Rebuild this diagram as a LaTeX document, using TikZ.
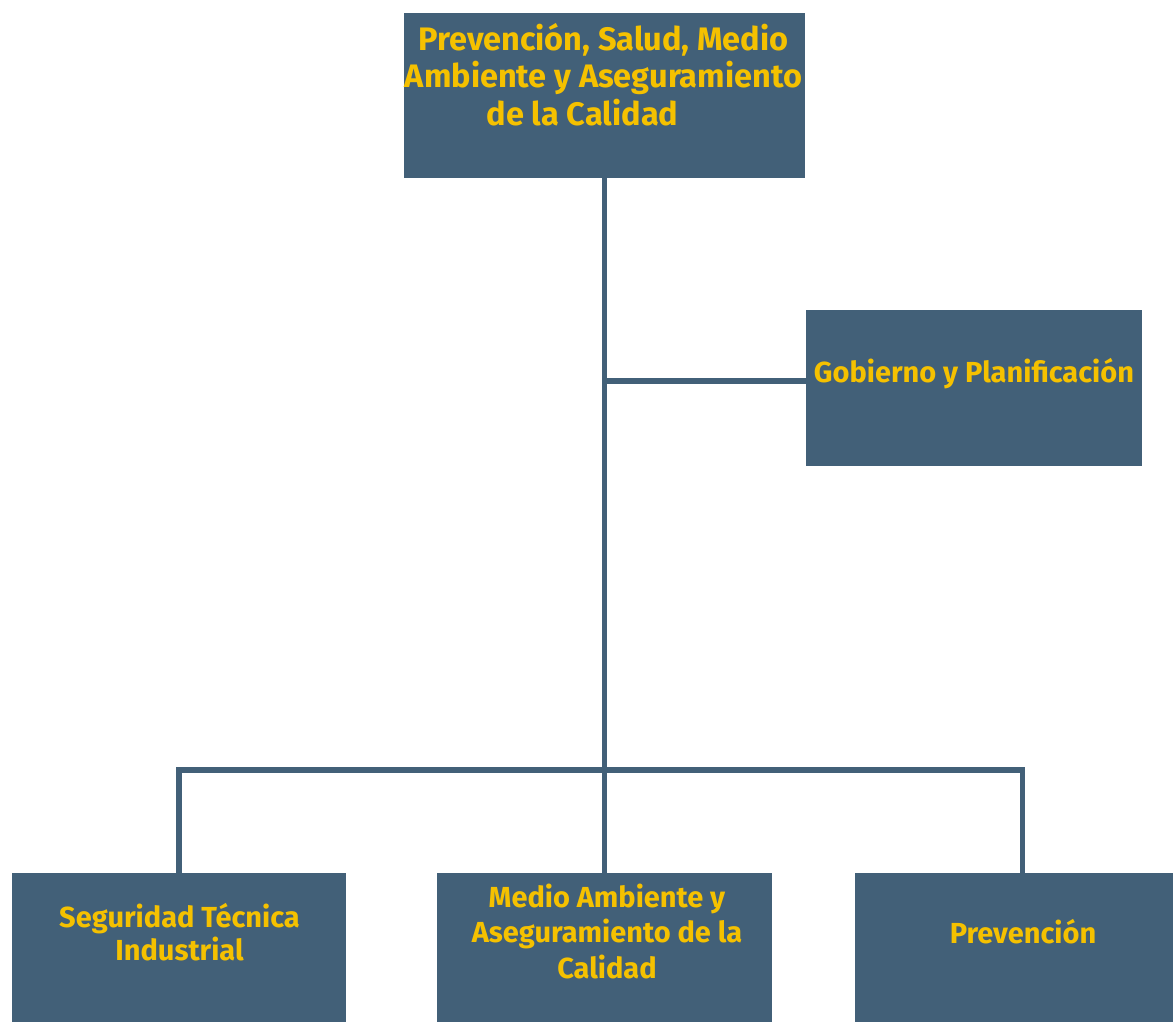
\documentclass[tikz,border=0pt]{standalone}
\usepackage{fontspec}
\setmainfont{Fira Sans}
\definecolor{boxblue}{HTML}{426078}
\definecolor{labelyellow}{HTML}{F5C100}
\tikzset{
    unit/.style = {fill = boxblue, draw = none, minimum width = 6.7cm, minimum height = 3.3cm, inner sep = 0pt},
    unittext/.style = {anchor = base, align = center, text = labelyellow, inner sep = 0pt,
        font = \bfseries\fontsize{16.5}{20}\selectfont},
    link/.style = {draw = boxblue, line width = 3.2pt}
}
\begin{document}
\begin{tikzpicture}[x = 0.02cm, y = -0.02cm]
        \clip (0, 0) rectangle (1173, 1021);
        \fill [white] (0, 0) rectangle (1173, 1021);
        \node [unit, minimum width = 8.02cm] (direccion) at (604.5, 95.5) {};
        \node [unit, minimum width = 6.72cm, minimum height = 3.12cm] (gobierno) at (974, 388) {};
        \node [unit] (seguridad) at (179, 955.5) {};
        \node [unit] (medio) at (604.5, 955.5) {};
        \node [unit] (prevencion) at (1022.5, 955.5) {};
        \coordinate (ramal) at ([yshift = 0.14cm] gobierno.west);
        \coordinate (bus) at (604.5, 770);
        \draw [link] (direccion.south) -- (medio.north);
        \draw [link] (direccion.south |- ramal) -- (ramal);
        \draw [link] (seguridad.north) |- (bus) -| (prevencion.north);
        \node [unittext, font = \bfseries\fontsize{18.5}{21.3}\selectfont] (direccionText) at (603.5, 125) {Prevención, Salud, Medio\\Ambiente y Aseguramiento\\de la Calidad\hspace*{0.84cm}};
        \node [unittext] (gobiernoText) at (974, 382) {Gobierno y Planificación};
        \node [unittext, font = \bfseries\fontsize{16.5}{18.7}\selectfont] (seguridadText) at (179.5, 960) {Seguridad Técnica\\Industrial};
        \node [unittext] (medioText) at (607, 978) {Medio Ambiente y\\Aseguramiento de la\\Calidad};
        \node [unittext] (prevencionText) at (1023, 943) {Prevención};
    \end{tikzpicture}
\end{document}
